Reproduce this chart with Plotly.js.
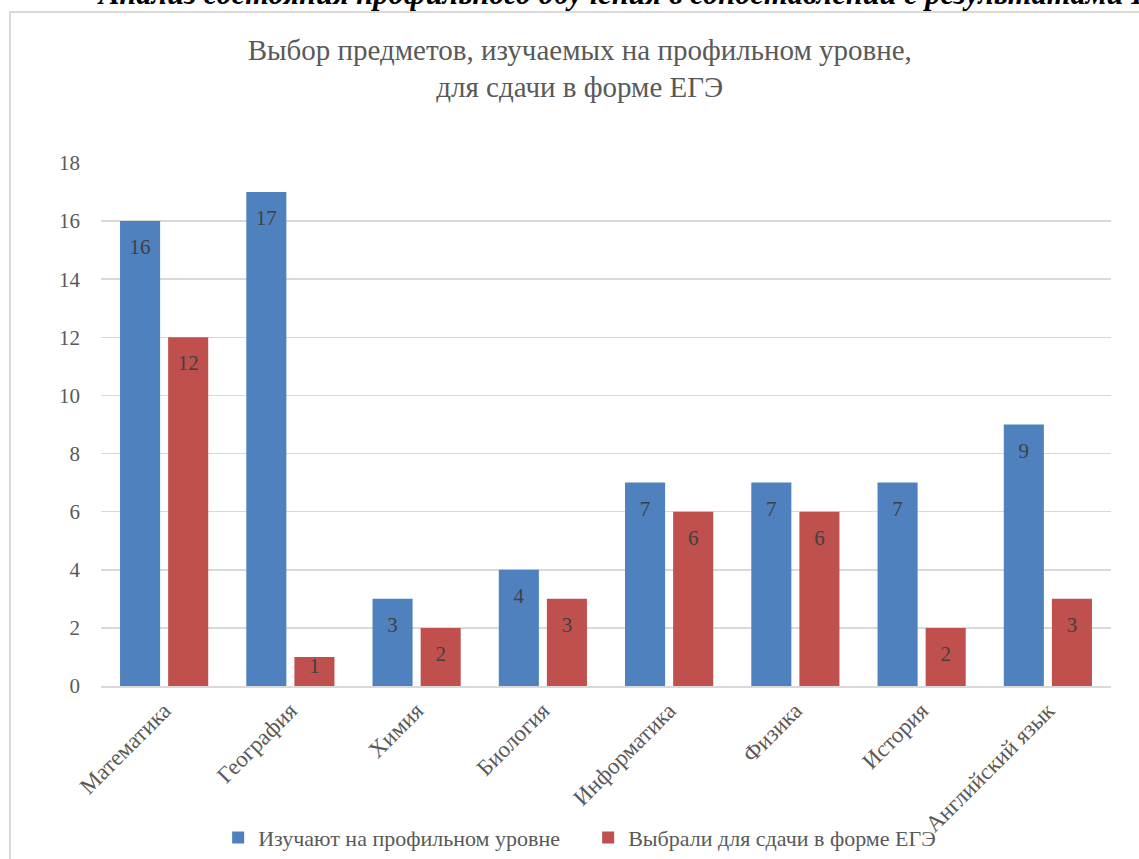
<!DOCTYPE html>
<html><head><meta charset="utf-8">
<script src="https://cdn.plot.ly/plotly-3.0.1.min.js"></script>
<style>html,body{margin:0;padding:0;background:#fff}#chart{width:1139px;height:859px}</style>
</head><body><div id="chart"></div>
<script>
const categories = ["Математика","География","Химия","Биология","Информатика","Физика","История","Английский язык"];
const studied = [16,17,3,4,7,7,7,9];
const chosen = [12,1,2,3,6,6,2,3];
const seriesNames = ["Изучают на профильном уровне","Выбрали для сдачи в форме ЕГЭ"];
const yTicks = [0,2,4,6,8,10,12,14,16,18];

const font = "Liberation Serif";
const colors = ['#4f81bf', '#c0504d'];
const series = [studied, chosen];

const data = [];
series.forEach((vals, i) => {
  data.push({type:'bar', name:seriesNames[i], x:categories, y:vals, offsetgroup:String(i),
    marker:{color:colors[i]}, hoverinfo:'none'});
});
// value labels inside the top of each bar (aligned with the grouped bars)
series.forEach((vals, i) => {
  data.push({type:'scatter', mode:'markers+text', x:categories, y:vals, offsetgroup:String(i),
    text:vals.map(String), textposition:'bottom center',
    marker:{size:vals.map(v => v >= 2 ? 26 : 0), opacity:0, color:'rgba(0,0,0,0)'},
    textfont:{family:font, size:21, color:'#404040'}, showlegend:false, hoverinfo:'none', cliponaxis:false});
});

const layout = {
  width:1139, height:859,
  margin:{l:101, r:28, t:163, b:173, autoexpand:false},
  paper_bgcolor:'#fff', plot_bgcolor:'#fff',
  font:{family:font, color:'#595959', size:20},
  title:{text:"Выбор предметов, изучаемых на профильном уровне,<br>для сдачи в форме ЕГЭ",
    font:{family:font,size:29,color:'#595959'}, x:0.509, xanchor:'center', y:0.9305, yanchor:'top'},
  barmode:'group', scattermode:'group',
  bargap:0.238, bargroupgap:0.167, scattergap:0.238,
  xaxis:{tickangle:-45, automargin:false, tickfont:{family:font,size:23,color:'#595959'}, showline:true,
    linecolor:'#d9d9d9', linewidth:2, ticks:'', showgrid:false},
  yaxis:{range:[0,18], automargin:false, tickvals:yTicks, ticktext:yTicks.map(String), showgrid:true, gridcolor:'#d9d9d9',
    gridwidth:1.5, zeroline:false, showline:false, ticks:'', tickfont:{family:font,size:21,color:'#595959'}, ticklabelstandoff:20},
  legend:{orientation:'h', x:0.116, xanchor:'left', y:-0.29, yanchor:'middle', bgcolor:'rgba(0,0,0,0)',
    font:{family:font,size:22,color:'#595959'}, itemwidth:30, entrywidth:325, traceorder:'normal'},
  shapes:[{type:'rect', xref:'paper', yref:'paper', x0:-0.0901, x1:1.04, y0:-0.36, y1:1.2887,
    line:{color:'#d9d9d9', width:2}, fillcolor:'rgba(0,0,0,0)', layer:'below'}],
  annotations:[{xref:'paper', yref:'paper', x:-0.006, y:1.287, xanchor:'left', yanchor:'bottom', showarrow:false,
    text:"<b><i>Анализ состояния профильного обучения в сопоставлении с результатами ЕГЭ</i></b>",
    font:{family:font, size:30.5, color:'#000'}}]
};
Plotly.newPlot('chart', data, layout, {displayModeBar:false, staticPlot:true});
</script></body></html>
